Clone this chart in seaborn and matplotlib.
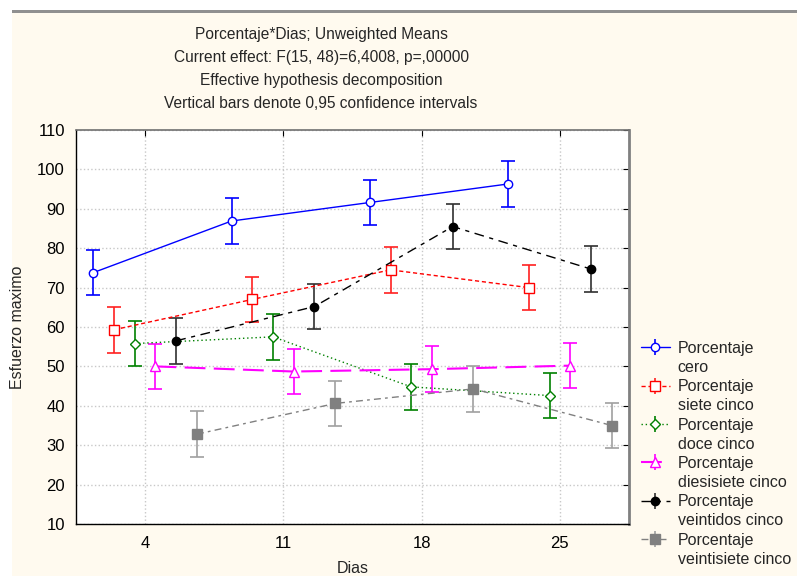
import numpy as np
import pandas as pd
import matplotlib
matplotlib.use('Agg')
import matplotlib.pyplot as plt
from matplotlib.lines import Line2D
from matplotlib.patches import Rectangle
import seaborn as sns

# data (means, 0.95 CI half width)
dias = [4, 11, 18, 25]
cero = [73.8, 86.9, 91.6, 96.3]
siete_cinco = [59.3, 67.0, 74.5, 70.0]
doce_cinco = [55.8, 57.5, 44.8, 42.6]
diesisiete_cinco = [50.0, 48.7, 49.3, 50.2]
veintidos_cinco = [56.5, 65.2, 85.5, 74.7]
veintisiete_cinco = [32.8, 40.6, 44.3, 35.0]
ci_half = 5.8

series_names = ['cero', 'siete cinco', 'doce cinco', 'diesisiete cinco',
                'veintidos cinco', 'veintisiete cinco']
series_vals = [cero, siete_cinco, doce_cinco, diesisiete_cinco,
               veintidos_cinco, veintisiete_cinco]

colors = ['#0000ff', '#ff0000', '#008000', '#ff00ff', '#000000', '#808080']
bar_colors = ['#0000ff', '#ff2020', '#008000', '#ff00ff', '#303030', '#a0a0a0']
markers = ['o', 's', 'D', '^', 'o', 's']
msizes = [6, 7, 5, 7, 6, 7]
filled = [False, False, False, False, True, True]
styles = ['-', (0, (3, 2)), (0, (1, 2)), (0, (10, 4)), (0, (7, 4, 3, 4)), (0, (5, 3, 2, 3))]
widths = [1.0, 1.0, 1.0, 1.5, 1.0, 1.0]
offsets = [-2.625, -1.575, -0.525, 0.525, 1.575, 2.625]

rows = []
for name, vals, off in zip(series_names, series_vals, offsets):
    for d, v in zip(dias, vals):
        rows.append({'serie': name, 'dias': d, 'x': d + off, 'y': v})
df = pd.DataFrame(rows)

sns.set_style('white')
plt.rcParams['font.family'] = ['Liberation Sans', 'DejaVu Sans']

fig = plt.figure(figsize=(7.97, 5.76), dpi=100, facecolor='white')
# cream panel and grey band at top
fig.patches.append(Rectangle((12 / 797, 0), 1, 1 - 13 / 576, transform=fig.transFigure,
                             facecolor='#fffaef', edgecolor='none', zorder=-10))
fig.patches.append(Rectangle((12 / 797, 1 - 13 / 576), 1, 3 / 576, transform=fig.transFigure,
                             facecolor='#909090', edgecolor='none', zorder=-10))

ax = fig.add_axes([76 / 797, 1 - 524 / 576, (629 - 76) / 797, (524 - 130) / 576])
ax.set_facecolor('white')

handles = []
for i, name in enumerate(series_names):
    sub = df[df['serie'] == name]
    mfc = colors[i] if filled[i] else 'white'
    sns.lineplot(data=sub, x='x', y='y', color=colors[i], linestyle=styles[i],
                 linewidth=widths[i], marker=markers[i], markersize=msizes[i],
                 markerfacecolor=mfc, markeredgecolor=colors[i], markeredgewidth=1,
                 errorbar=None, ax=ax, zorder=4, legend=False)
    ax.errorbar(sub['x'], sub['y'], yerr=ci_half, fmt='none', ecolor=bar_colors[i],
                elinewidth=1.2, capsize=5, capthick=1.2, zorder=3)
    h = ax.errorbar([], [], yerr=[], color=colors[i], ecolor=bar_colors[i],
                    linestyle=styles[i], linewidth=widths[i], marker=markers[i],
                    markersize=msizes[i], markerfacecolor=mfc, markeredgecolor=colors[i],
                    elinewidth=1.2, capsize=5, capthick=1.2)
    handles.append(h)

ax.set_xlim(0.5, 28.5)
ax.set_ylim(10, 110)
ax.set_xticks(dias)
ax.set_yticks(np.arange(10, 111, 10))
ax.grid(True, color='#c8c8c8', linestyle=':', linewidth=1)
ax.tick_params(direction='in', length=4, top=True, right=True, labelsize=12,
               colors='black')
ax.tick_params(axis='y', pad=8)
ax.tick_params(axis='x', pad=9)
for s in ['left', 'bottom']:
    ax.spines[s].set_color('black')
    ax.spines[s].set_linewidth(1)
ax.spines['top'].set_color('#707070')
ax.spines['top'].set_linewidth(1.2)
ax.spines['right'].set_color('#808080')
ax.spines['right'].set_linewidth(2)

ax.set_xlabel('Dias', fontsize=11.5, labelpad=7)
ax.set_ylabel('Esfuerzo maximo', fontsize=11.5, labelpad=9)

titles = ['Porcentaje*Dias; Unweighted Means',
          'Current effect: F(15, 48)=6,4008, p=,00000',
          'Effective hypothesis decomposition',
          'Vertical bars denote 0,95 confidence intervals']
for k, t in enumerate(titles):
    fig.text(321 / 797, 1 - (35 + k * 22.7) / 576, t, ha='center', va='center', fontsize=11.2)

blank = Line2D([], [], alpha=0)
leg_handles, leg_labels = [], []
for h, name in zip(handles, series_names):
    leg_handles += [h, blank]
    leg_labels += ['Porcentaje', name]
fig.legend(leg_handles, leg_labels, loc='upper left', bbox_to_anchor=(641 / 797, 1 - 341 / 576),
           frameon=False, fontsize=11.5, labelspacing=0.26, handlelength=1.8,
           handletextpad=0.5, borderpad=0, borderaxespad=0)

fig.savefig('out.png', dpi=100, facecolor=fig.get_facecolor())
